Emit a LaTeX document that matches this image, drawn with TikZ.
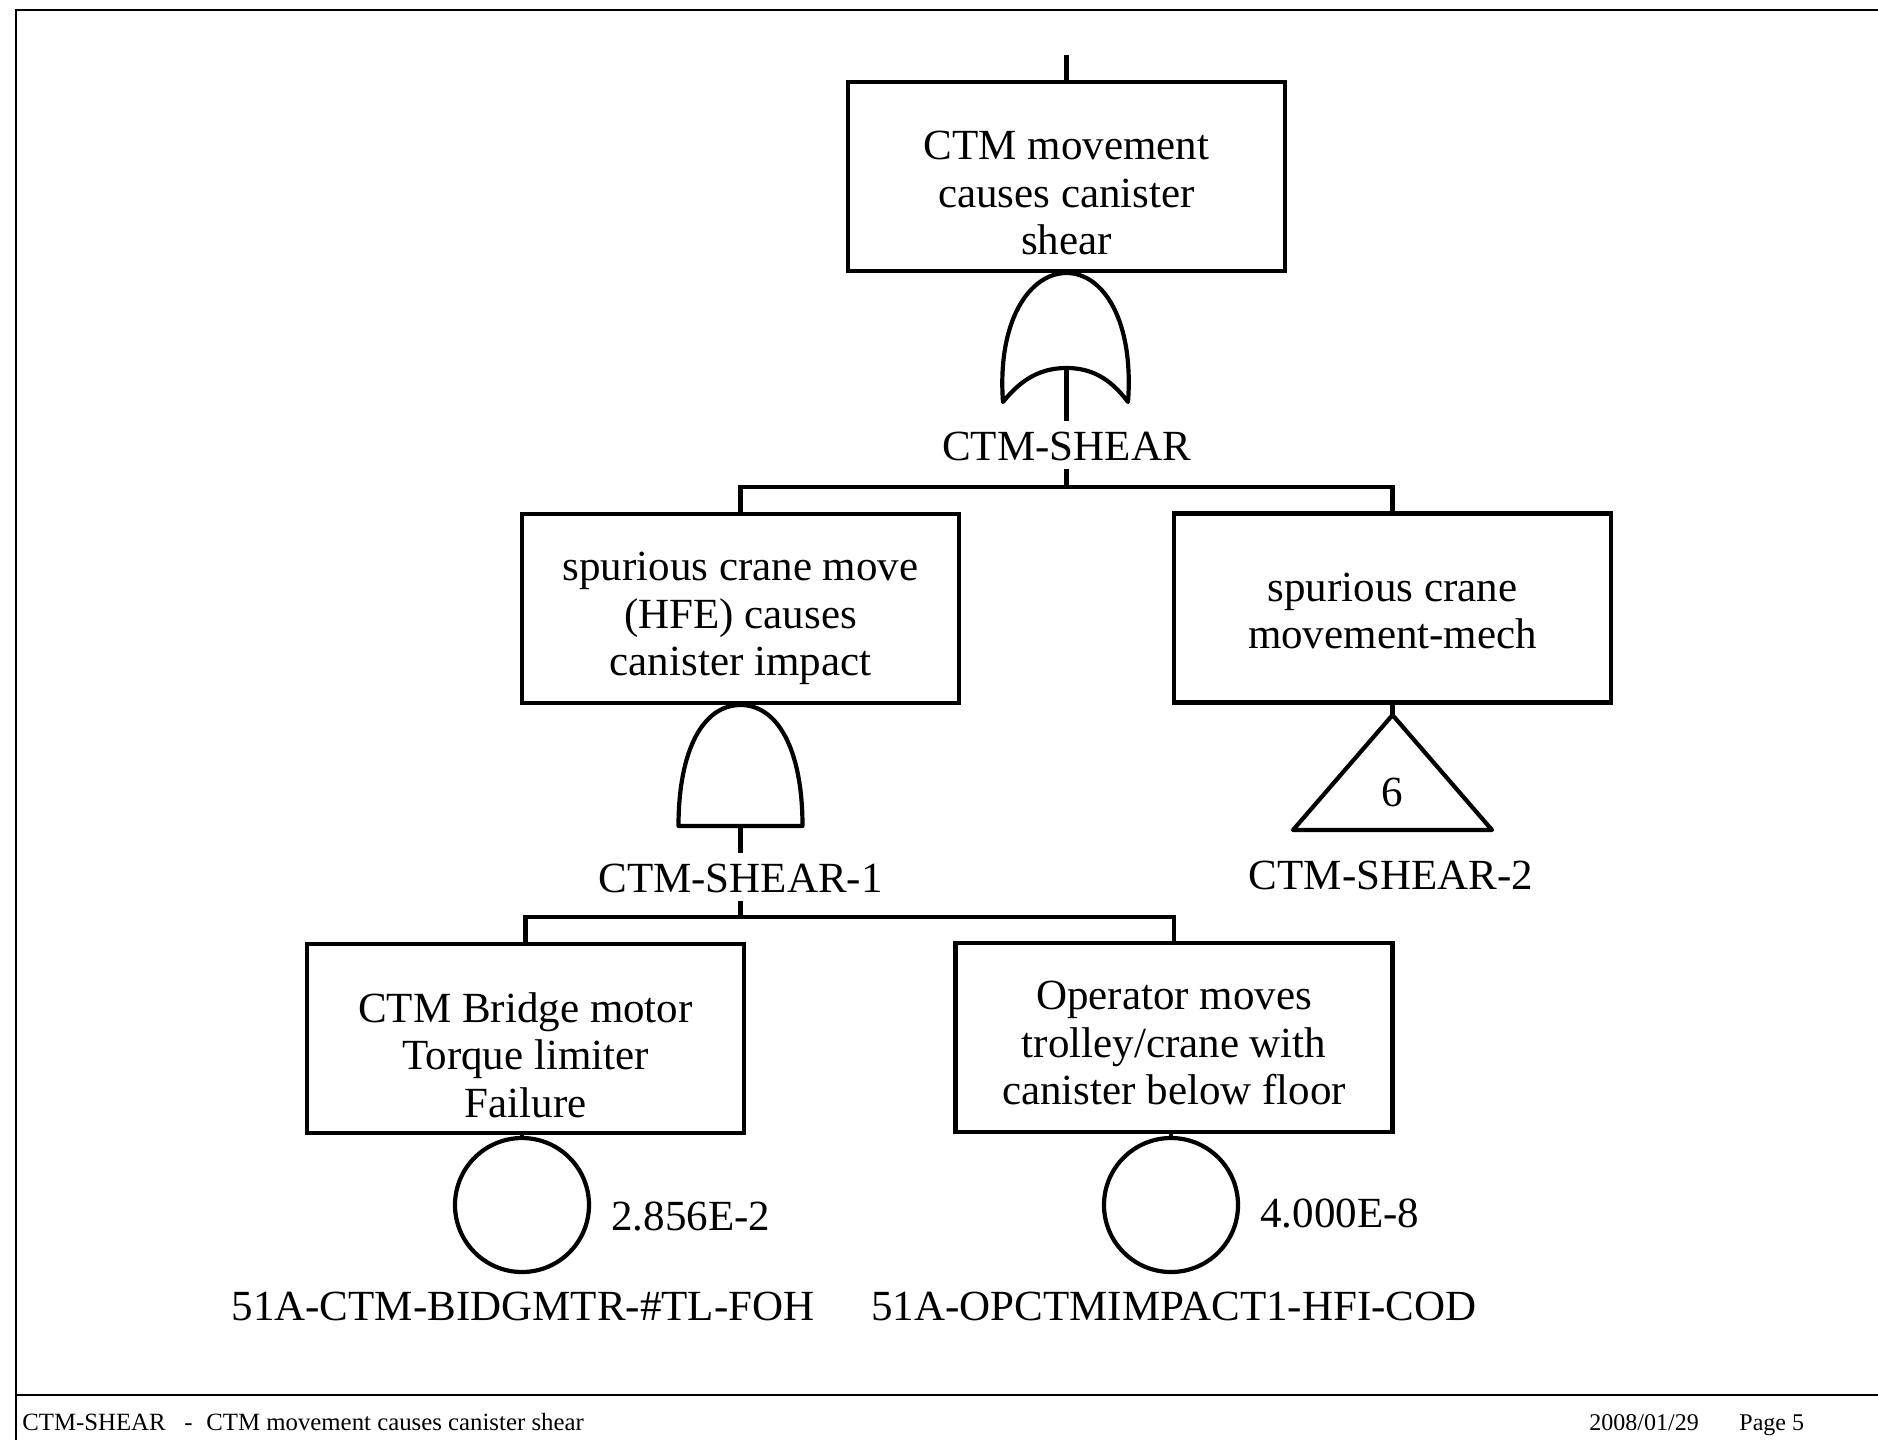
\documentclass[tikz,border=0pt]{standalone}
\usepackage{fontspec}
\setmainfont{Liberation Serif}
\tikzset{
  evbox/.style={draw, line width=2.1pt, minimum width=218.5pt, minimum height=94.5pt, inner sep=0pt},
  txt/.style={align=center, font=\fontsize{21.5}{23.75}\selectfont, execute at begin node=\strut, execute at end node=\strut, inner sep=0pt},
  lbl/.style={font=\fontsize{21.5}{23.75}\selectfont, inner sep=0pt, anchor=base, text height=19.5pt, text depth=4.5pt},
  val/.style={font=\fontsize{21.5}{23.75}\selectfont, inner sep=0pt, anchor=base west},
  gateline/.style={line width=2.1pt, line join=round},
  conn/.style={line width=2.1pt},
  basic/.style={draw, circle, line width=2.1pt, minimum size=67pt, inner sep=0pt},
  foot/.style={font=\fontsize{12}{14}\selectfont, anchor=base west, inner sep=0pt},
  footl/.style={font=\fontsize{12.4}{14}\selectfont, anchor=base west, inner sep=0pt},
  frame/.style={line width=0.8pt},
}
\begin{document}
\begin{tikzpicture}[x=0.5pt, y=-0.5pt]
\useasboundingbox (0,0) rectangle (1878,1440);
% frame
\draw[frame] (1878,10) -- (16,10) -- (16,1440);
\draw[frame] (16,1395) -- (1878,1395);

% event boxes
\node[evbox] (top) at (1066.5,176.5) {};
\node[txt] (topt) at (1066.5,200) {CTM movement\\causes canister\\shear};
\node[evbox] (hfe) at (740.5,608.5) {};
\node[txt] (hfet) at (740.5,621) {spurious crane move\\(HFE) causes\\canister impact};
\node[evbox] (mech) at (1392.5,608) {};
\node[txt] (mecht) at (1392.5,618) {spurious crane\\movement-mech};
\node[evbox] (bmtr) at (525.5,1038.5) {};
\node[txt] (bmtrt) at (525.5,1062) {CTM Bridge motor\\Torque limiter\\Failure};
\node[evbox] (opr) at (1174,1037.5) {};
\node[txt] (oprt) at (1174,1050) {Operator moves\\trolley/crane with\\canister below floor};

% OR gate
\coordinate (orin) at (1066.5,273);
\coordinate (orout) at (1066.5,368);
\draw[gateline] (1003,402) .. controls (997,320) and (1030,273) .. (orin)
  .. controls (1103,273) and (1134,320) .. (1128,402)
  .. controls (1110,378) and (1091,368) .. (orout)
  .. controls (1042,368) and (1022,378) .. (1003,402) -- cycle;
\node[lbl] (l1) at (1066.5,460) {CTM-SHEAR};
\coordinate (bar1) at (1066.5,487);

% AND gate
\coordinate (andin) at (740.5,705);
\coordinate (andout) at (740.5,826);
\draw[gateline] (678.5,826) .. controls (678.5,750) and (703,705) .. (andin)
  .. controls (778,705) and (802.5,750) .. (802.5,826) -- cycle;
\node[lbl] (l2) at (740.5,892) {CTM-SHEAR-1};
\coordinate (bar2) at (740.5,917);

% transfer triangle
\coordinate (triin) at (1392.5,715);
\draw[gateline] (triin) -- (1492,830) -- (1293,830) -- cycle;
\node[lbl] (six) at (1392.5,806) {6};
\node[lbl] (l3) at (1391,889) {CTM-SHEAR-2};

% basic events
\node[basic] (c1) at (522,1205) {};
\node[basic] (c2) at (1171,1205) {};
\node[val] (v1) at (611,1230) {2.856E-2};
\node[val] (v2) at (1260,1227) {4.000E-8};
\node[lbl] (b1) at (523,1320) {51A-CTM-BIDGMTR-\#TL-FOH};
\node[lbl] (b2) at (1174,1320) {51A-OPCTMIMPACT1-HFI-COD};

% connectors
\coordinate (topin) at (1066.5,55);
\draw[conn] (topin) -- (top.north);
\draw[conn] (top.south) -- (orin);
\draw[conn] (orout) -- (l1.north);
\draw[conn] (l1.south) -- (bar1);
\draw[conn] (hfe.north) -- (hfe.north |- bar1) -- (mech.north |- bar1) -- (mech.north);
\draw[conn] (hfe.south) -- (andin);
\draw[conn] (andout) -- (l2.north);
\draw[conn] (l2.south) -- (bar2);
\draw[conn] (bmtr.north) -- (bmtr.north |- bar2) -- (opr.north |- bar2) -- (opr.north);
\draw[conn] (mech.south) -- (triin);
\draw[conn] (c1.north |- bmtr.south) -- (c1.north);
\draw[conn] (c2.north |- opr.south) -- (c2.north);

% footer
\node[footl] (f1) at (22,1430) {CTM-SHEAR};
\node[footl] (f2) at (184,1430) {-};
\node[footl] (f3) at (206,1430) {CTM movement causes canister shear};
\node[foot] (f4) at (1589,1430) {2008/01/29};
\node[foot] (f5) at (1739,1430) {Page 5};
\end{tikzpicture}
\end{document}
